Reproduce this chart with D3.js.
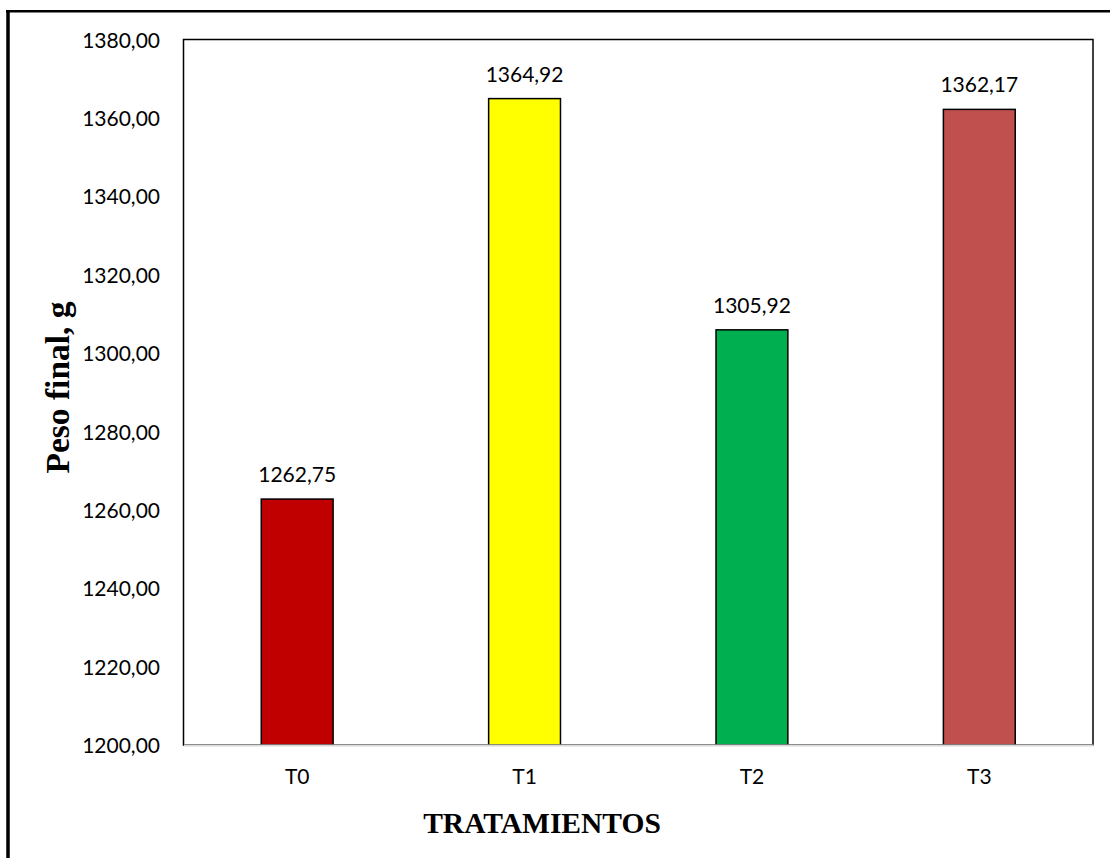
<!DOCTYPE html>
<html>
<head>
<meta charset="utf-8">
<script src="https://cdn.jsdelivr.net/npm/d3@7"></script>
<style>
  html, body { margin: 0; padding: 0; background: #fff; }
  svg { display: block; }
</style>
</head>
<body>
<svg id="chart" width="1110" height="858"></svg>
<script>
// Final weight per treatment
const categories = ["T0", "T1", "T2", "T3"];
const values = [1262.75, 1364.92, 1305.92, 1362.17];
const barColors = ["#C00000", "#FFFF00", "#00B050", "#C0504D"];
const yTicks = [1200, 1220, 1240, 1260, 1280, 1300, 1320, 1340, 1360, 1380];
const yDomain = [1200, 1380];
const xTitle = "TRATAMIENTOS";
const yTitle = "Peso final, g";

const svg = d3.select("#chart");
const plot = { left: 183.5, right: 1093, top: 39.5, bottom: 745 };

const numFont = "Lato, 'Open Sans', sans-serif";
const numSize = "21px";
const titleFont = "'Liberation Serif', 'Times New Roman', serif";

const locale = d3.formatLocale({ decimal: ",", thousands: "", grouping: [3], currency: ["", ""] });
const fmt = locale.format(".2f");

const x = d3.scaleBand().domain(categories).range([plot.left, plot.right]).paddingInner(0.684).paddingOuter(0.342);
const y = d3.scaleLinear().domain(yDomain).range([plot.bottom, plot.top]);

// Outer frame (left and top edges)
svg.append("line").attr("x1", 8).attr("x2", 8).attr("y1", 10).attr("y2", 858)
  .attr("stroke", "#000").attr("stroke-width", 3.5);
svg.append("line").attr("x1", 6).attr("x2", 1110).attr("y1", 11.2).attr("y2", 11.2)
  .attr("stroke", "#000").attr("stroke-width", 2.4);

// Plot area border
svg.append("rect")
  .attr("x", plot.left).attr("y", plot.top)
  .attr("width", plot.right - plot.left).attr("height", plot.bottom - plot.top)
  .attr("fill", "none").attr("stroke", "#000").attr("stroke-width", 1.5);

// Bars
svg.append("g").selectAll("rect").data(values).join("rect")
  .attr("x", (d, i) => x(categories[i]))
  .attr("width", x.bandwidth())
  .attr("y", d => y(d))
  .attr("height", d => y(yDomain[0]) - y(d))
  .attr("fill", (d, i) => barColors[i])
  .attr("stroke", "#000").attr("stroke-width", 1.5);

// Category axis
const xAxis = svg.append("g").attr("transform", `translate(0,${plot.bottom})`)
  .call(d3.axisBottom(x).tickSize(0).tickPadding(0));
xAxis.select(".domain").attr("stroke", "#D9D9D9").attr("stroke-width", 2);
xAxis.selectAll("text")
  .attr("y", 39).attr("dy", null)
  .attr("fill", "#000")
  .style("font-family", numFont).style("font-size", numSize);

// Value axis
const yAxis = svg.append("g").attr("transform", `translate(${plot.left},0)`)
  .call(d3.axisLeft(y).tickValues(yTicks).tickFormat(fmt).tickSize(0).tickPadding(23.5));
yAxis.select(".domain").remove();
yAxis.selectAll("text")
  .attr("dy", "0.36em")
  .attr("fill", "#000")
  .style("font-family", numFont).style("font-size", numSize);

// Data labels
svg.append("g").selectAll("text").data(values).join("text")
  .attr("x", (d, i) => x(categories[i]) + x.bandwidth() / 2)
  .attr("y", d => y(d) - 17)
  .attr("text-anchor", "middle")
  .attr("fill", "#000")
  .style("font-family", numFont).style("font-size", numSize)
  .text(d => fmt(d));

// Axis titles
svg.append("text")
  .attr("x", 542).attr("y", 833)
  .attr("text-anchor", "middle")
  .style("font-family", titleFont).style("font-weight", "bold").style("font-size", "29.5px")
  .text(xTitle);

svg.append("text")
  .attr("transform", "translate(69,387.5) rotate(-90)")
  .attr("text-anchor", "middle")
  .style("font-family", titleFont).style("font-weight", "bold").style("font-size", "33.5px")
  .text(yTitle);
</script>
</body>
</html>
